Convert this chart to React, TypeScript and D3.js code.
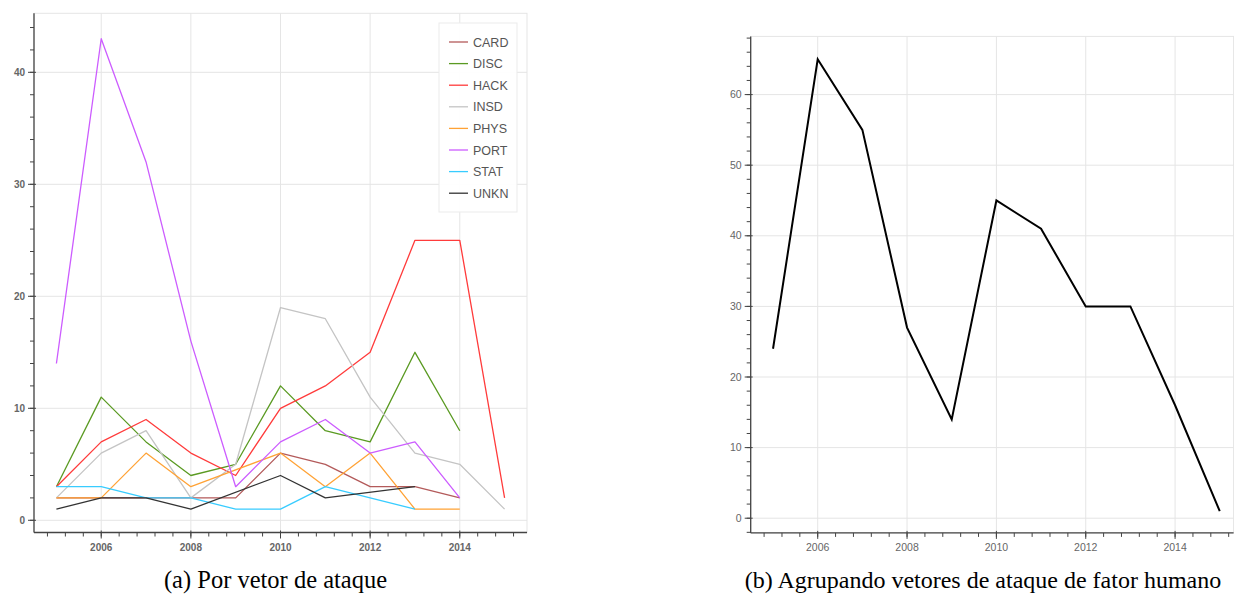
import React from "react";
import * as d3 from "d3";

const years = [2005, 2006, 2007, 2008, 2009, 2010, 2011, 2012, 2013, 2014, 2015];

const seriesNames = ["CARD", "DISC", "HACK", "INSD", "PHYS", "PORT", "STAT", "UNKN"];
const seriesColors = ["#b35a5a", "#5a9a22", "#ff3b3b", "#c4c4c4", "#ffa235", "#cc5cff", "#38ccff", "#333333"];

const CARD = [2, 2, 2, 2, 2, 6, 5, 3, 3, 2, null];
const DISC = [3, 11, 7, 4, 5, 12, 8, 7, 15, 8, null];
const HACK = [3, 7, 9, 6, 4, 10, 12, 15, 25, 25, 2];
const INSD = [2, 6, 8, 2, 5, 19, 18, 11, 6, 5, 1];
const PHYS = [2, 2, 6, 3, null, 6, 3, 6, 1, 1, null];
const PORT = [14, 43, 32, 16, 3, 7, 9, 6, 7, 2, null];
const STAT = [3, 3, 2, 2, 1, 1, 3, 2, 1, null, null];
const UNKN = [1, 2, 2, 1, null, 4, 2, null, 3, null, null];
const seriesValues = [CARD, DISC, HACK, INSD, PHYS, PORT, STAT, UNKN];

const human = [24, 65, 55, 27, 14, 45, 41, 30, 30, 16, 1];

const xMajorTicks = [2006, 2008, 2010, 2012, 2014];
const leftYTicks = [0, 10, 20, 30, 40];
const rightYTicks = [0, 10, 20, 30, 40, 50, 60];

const captionA = "(a) Por vetor de ataque";
const captionB = "(b) Agrupando vetores de ataque de fator humano";

const SANS = "'Liberation Sans', Arial, Helvetica, sans-serif";
const SERIF = "'Liberation Serif', 'Times New Roman', serif";

type PanelProps = {
  x: d3.ScaleLinear<number, number>;
  y: d3.ScaleLinear<number, number>;
  yTicks: number[];
  yMinorStep: number;
  labelSize: number;
  labelWeight: string | number;
  children?: React.ReactNode;
};

function range(a: number, b: number, step: number) {
  const out: number[] = [];
  for (let v = a; v <= b + 1e-9; v += step) out.push(+v.toFixed(6));
  return out;
}

function Panel({ x, y, yTicks, yMinorStep, labelSize, labelWeight, children }: PanelProps) {
  const [x0, x1] = x.range();
  const [yb, yt] = y.range();
  const [dx0, dx1] = x.domain();
  const [dy0, dy1] = y.domain();
  const xMinor = range(Math.ceil(dx0 / 0.4) * 0.4, dx1, 0.4);
  const yMinor = range(Math.ceil(dy0 / yMinorStep) * yMinorStep, dy1, yMinorStep);
  const axisColor = "#444";
  const labelColor = "#666";
  return (
    <g>
      <rect x={x0} y={yt} width={x1 - x0} height={yb - yt} fill="none" stroke="#e5e5e5" strokeWidth={1} />
      {xMajorTicks.map((t) => (
        <line key={"gx" + t} x1={x(t)} x2={x(t)} y1={yt} y2={yb} stroke="#e5e5e5" strokeWidth={1} />
      ))}
      {yTicks.map((t) => (
        <line key={"gy" + t} x1={x0} x2={x1} y1={y(t)} y2={y(t)} stroke="#e5e5e5" strokeWidth={1} />
      ))}
      {children}
      <line x1={x0} x2={x1} y1={yb} y2={yb} stroke={axisColor} strokeWidth={1.3} />
      {xMinor.map((t, i) => (
        <line key={"xm" + i} x1={x(t)} x2={x(t)} y1={yb} y2={yb + 4} stroke={axisColor} strokeWidth={1} />
      ))}
      {xMajorTicks.map((t) => (
        <g key={"xt" + t}>
          <line x1={x(t)} x2={x(t)} y1={yb - 2} y2={yb + 6} stroke={axisColor} strokeWidth={1} />
          <text x={x(t)} y={yb + 18} textAnchor="middle" fontSize={labelSize} fontWeight={labelWeight} fill={labelColor} fontFamily={SANS}>
            {t}
          </text>
        </g>
      ))}
      <line x1={x0} x2={x0} y1={yt} y2={yb} stroke={axisColor} strokeWidth={1.3} />
      {yMinor.map((t, i) => (
        <line key={"ym" + i} x1={x0 - 4} x2={x0} y1={y(t)} y2={y(t)} stroke={axisColor} strokeWidth={1} />
      ))}
      {yTicks.map((t) => (
        <g key={"yt" + t}>
          <line x1={x0 - 6} x2={x0 + 2} y1={y(t)} y2={y(t)} stroke={axisColor} strokeWidth={1} />
          <text x={x0 - 9} y={y(t)} dy="0.35em" textAnchor="end" fontSize={labelSize} fontWeight={labelWeight} fill={labelColor} fontFamily={SANS}>
            {t}
          </text>
        </g>
      ))}
    </g>
  );
}

export default function App() {
  const xL = d3.scaleLinear().domain([2004.5, 2015.5]).range([34, 527]);
  const yL = d3.scaleLinear().domain([-1.09, 45.27]).range([532.5, 13.3]);
  const xR = d3.scaleLinear().domain([2004.5, 2015.31]).range([750.7, 1233.6]);
  const yR = d3.scaleLinear().domain([-2.08, 68.24]).range([532.9, 36.4]);

  const lineGen = (xs: d3.ScaleLinear<number, number>, ys: d3.ScaleLinear<number, number>, vals: (number | null)[]) => {
    const pts = years.map((yr, i) => [yr, vals[i]] as [number, number | null]).filter((p) => p[1] !== null) as [number, number][];
    return d3.line<[number, number]>().x((d) => xs(d[0])).y((d) => ys(d[1]))(pts) || "";
  };

  const legendX = 439;
  const legendY = 23;
  const legendRow = 21.6;

  return (
    <svg width={1234} height={595} style={{ position: "absolute", left: 0, top: 0, background: "#fff" }}>
      <rect x={0} y={0} width={1234} height={595} fill="#fff" />
      <Panel x={xL} y={yL} yTicks={leftYTicks} yMinorStep={2} labelSize={10} labelWeight="bold">
        {seriesValues.map((vals, i) => (
          <path key={seriesNames[i]} d={lineGen(xL, yL, vals)} fill="none" stroke={seriesColors[i]} strokeWidth={1.3} strokeLinejoin="round" />
        ))}
        <g>
          <rect x={legendX} y={legendY} width={78} height={189} fill="#fff" fillOpacity={0.95} stroke="#ebebeb" strokeWidth={1} />
          {seriesNames.map((name, i) => {
            const cy = legendY + 19 + i * legendRow;
            return (
              <g key={"lg" + name}>
                <line x1={legendX + 10} x2={legendX + 29} y1={cy} y2={cy} stroke={seriesColors[i]} strokeWidth={1.3} />
                <text x={legendX + 34} y={cy} dy="0.36em" fontSize={12.5} fill="#555" fontFamily={SANS}>
                  {name}
                </text>
              </g>
            );
          })}
        </g>
      </Panel>
      <Panel x={xR} y={yR} yTicks={rightYTicks} yMinorStep={2} labelSize={10.5} labelWeight="normal">
        <path d={lineGen(xR, yR, human)} fill="none" stroke="#000" strokeWidth={2} strokeLinejoin="miter" />
      </Panel>
      <text x={275.5} y={588} textAnchor="middle" fontSize={24.5} fontFamily={SERIF} fill="#000">
        {captionA}
      </text>
      <text x={983} y={588} textAnchor="middle" fontSize={24} fontFamily={SERIF} fill="#000">
        {captionB}
      </text>
    </svg>
  );
}
